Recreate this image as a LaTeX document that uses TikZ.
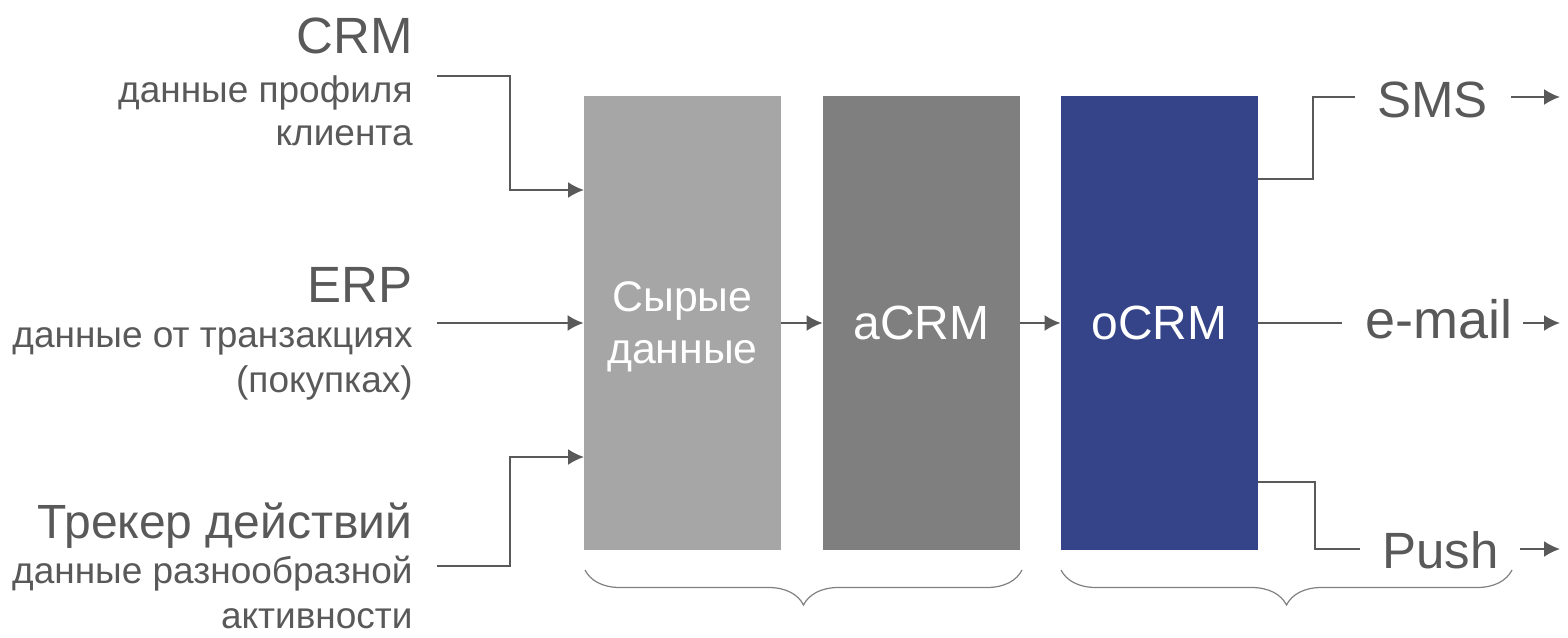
\documentclass[tikz,border=0pt]{standalone}
\usepackage{fontspec}
\setmainfont{Liberation Sans}
\usepackage{xcolor}
\usetikzlibrary{arrows.meta}
\usetikzlibrary{decorations}
\usetikzlibrary{decorations.pathreplacing}

\definecolor{txtgray}{HTML}{595959}
\definecolor{rawgray}{HTML}{A6A6A6}
\definecolor{agray}{HTML}{7F7F7F}
\definecolor{oblue}{HTML}{354488}

\begin{document}
\begin{tikzpicture}[x=0.5pt, y=-0.5pt, >={Latex[length=8pt,width=8pt]},
  big/.style={font=\fontsize{25.5}{30}\selectfont, text=txtgray, inner sep=0pt},
  small/.style={font=\fontsize{18.5}{21}\selectfont, text=txtgray, inner sep=0pt},
  block/.style={minimum width=98.5pt, minimum height=227pt, inner sep=0pt,
    text=white, font=\fontsize{24}{26}\selectfont, align=center},
  link/.style={line width=1pt, draw=txtgray},
  bracket/.style={line width=0.6pt, draw=gray, decorate,
    decoration={brace, amplitude=17.5pt}}]
\useasboundingbox (0,0) rectangle (1568,637);

%blocks
\node[block, fill=rawgray] (raw) at (682.5,323) {};
\node[text=white, align=center, inner sep=0pt, font=\fontsize{21.4}{26}\selectfont]
  (rawtxt) at (682.5,327) {Сырые\\данные};
\node[block, fill=agray] (acrm) at (921.5,323) {aCRM};
\node[block, fill=oblue] (ocrm) at (1159.5,323) {oCRM};

\draw[link,->] (raw.east) -- (acrm.west);
\draw[link,->] (acrm.east) -- (ocrm.west);

%sources
\begin{scope}
  \node[big, anchor=base east] (crm) at (413,53) {CRM};
  \node[small, anchor=base east] (crmtxt) at (413,102) {данные профиля};
  \node[small, anchor=base east] (crmtxt2) at (413,145) {клиента};

  \node[big, anchor=base east] (erp) at (413,302) {ERP};
  \node[small, anchor=base east] (erptxt) at (413,347) {данные от транзакциях};
  \node[small, anchor=base east] (erptxt2) at (413,392) {(покупках)};

  \node[big, anchor=base east, font=\fontsize{24}{30}\selectfont] (track) at (413,538) {Трекер действий};
  \node[small, anchor=base east] (tracktxt) at (413,583) {данные разнообразной};
  \node[small, anchor=base east] (tracktxt2) at (413,628) {активности};

  \coordinate (crmin) at (437,76);
  \coordinate (crmto) at (584,190);
  \coordinate (erpin) at (437,323);
  \coordinate (trackin) at (437,566);
  \coordinate (trackto) at (584,457);

  \draw[link,->] (crmin) -- ++(73,0) |- (crmto);
  \draw[link,->] (erpin) -- (raw.west);
  \draw[link,->] (trackin) -- ++(73,0) |- (trackto);
\end{scope}

%channels
\begin{scope}
  \node[big, anchor=base west] (sms) at (1377,117) {SMS};
  \node[big, anchor=base west, font=\fontsize{27}{30}\selectfont] (mail) at (1365,338) {e-mail};
  \node[big, anchor=base west] (push) at (1382,568) {Push};

  \coordinate (smsfrom) at (1258,179);
  \coordinate (smsto) at (1355,97);
  \coordinate (smsout) at (1511,97);
  \coordinate (smsend) at (1560,97);
  \coordinate (mailto) at (1342,323);
  \coordinate (mailout) at (1523,323);
  \coordinate (mailend) at (1560,323);
  \coordinate (pushfrom) at (1258,482);
  \coordinate (pushto) at (1360,549);
  \coordinate (pushout) at (1520,549);
  \coordinate (pushend) at (1560,549);

  \draw[link] (smsfrom) -- ++(55,0) |- (smsto);
  \draw[link] (ocrm.east) -- (mailto);
  \draw[link] (pushfrom) -- ++(57,0) |- (pushto);

  \draw[link,->] (smsout) -- (smsend);
  \draw[link,->] (mailout) -- (mailend);
  \draw[link,->] (pushout) -- (pushend);
\end{scope}

%braces
\draw[bracket] (1022,570) -- (585,570);
\draw[bracket] (1512,570) -- (1061,570);
\end{tikzpicture}
\end{document}
